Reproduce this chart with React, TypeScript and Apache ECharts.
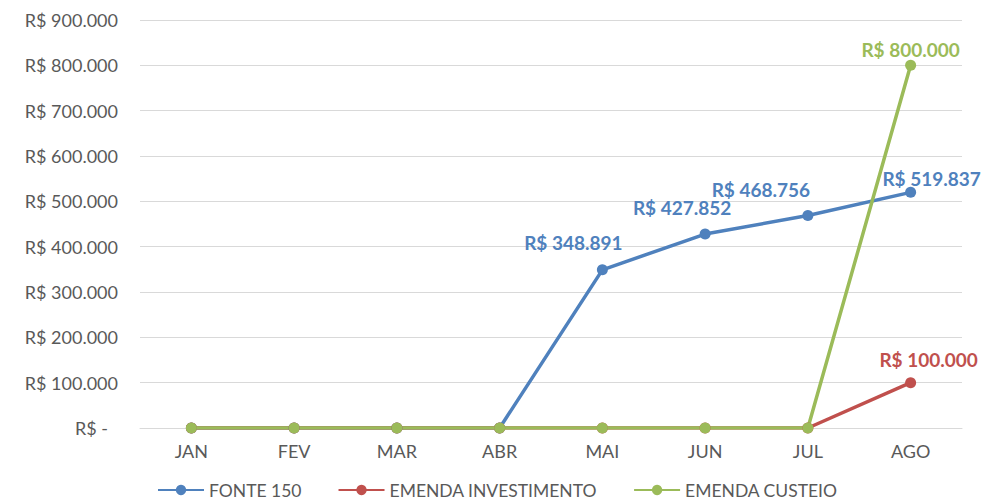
import React, { useEffect, useRef } from "react";
import * as echarts from "echarts";

const categories = ["JAN", "FEV", "MAR", "ABR", "MAI", "JUN", "JUL", "AGO"];
const fonte150 = [0, 0, 0, 0, 348891, 427852, 468756, 519837];
const emendaInvestimento = [0, 0, 0, 0, 0, 0, 0, 100000];
const emendaCusteio = [0, 0, 0, 0, 0, 0, 0, 800000];
const seriesNames = ["FONTE 150", "EMENDA INVESTIMENTO", "EMENDA CUSTEIO"];

const fmt = (v: number) =>
  "R$ " + Math.round(v).toString().replace(/\B(?=(\d{3})+(?!\d))/g, ".");

const fonteOffsets: Record<number, [number, number]> = {
  4: [-29, -7],
  5: [-23, -7],
  6: [-47, -6],
  7: [21, 6],
};

export default function App() {
  const ref = useRef<HTMLDivElement>(null);
  useEffect(() => {
    document.body.style.margin = "0";
    const chart = echarts.init(ref.current!, null, { renderer: "svg" });
    const font = "Lato";
    const mk = (
      values: number[],
      color: string,
      offsets: Record<number, [number, number]>
    ) =>
      values.map((v, i) =>
        v === 0
          ? v
          : {
              value: v,
              label: {
                show: true,
                position: "top",
                offset: offsets[i] || [0, 0],
                formatter: (p: any) => fmt(p.value),
                color,
                fontSize: 19,
                fontWeight: "bold",
                fontFamily: font,
              },
            }
      );
    const colors = ["#4F81BD", "#C0504D", "#9BBB59"];
    chart.setOption({
      animation: false,
      grid: { left: 140, right: 34, top: 20, bottom: 73 },
      legend: {
        bottom: -3,
        left: 152,
        itemWidth: 46,
        itemHeight: 13,
        itemGap: 36,
        textStyle: { color: "#595959", fontSize: 17.5, fontFamily: font },
        data: seriesNames,
      },
      xAxis: {
        type: "category",
        data: categories,
        axisLine: { lineStyle: { color: "#d9d9d9" } },
        axisTick: { show: false },
        axisLabel: {
          color: "#595959",
          fontSize: 18,
          fontFamily: font,
          margin: 14,
        },
      },
      yAxis: {
        type: "value",
        min: 0,
        max: 900000,
        interval: 100000,
        axisLine: { show: false },
        axisTick: { show: false },
        splitLine: { lineStyle: { color: "#d9d9d9" } },
        axisLabel: {
          color: "#595959",
          fontSize: 18,
          fontFamily: font,
          margin: 22,
          formatter: (v: number) => (v === 0 ? "{z|R$ -}" : fmt(v)),
          rich: {
            z: {
              color: "#595959",
              fontSize: 18,
              fontFamily: font,
              padding: [0, 10, 0, 0],
            },
          },
        },
      },
      series: [
        {
          name: seriesNames[0],
          type: "line",
          data: mk(fonte150, colors[0], fonteOffsets),
          color: colors[0],
          symbol: "circle",
          symbolSize: 11,
          lineStyle: { width: 3.5 },
        },
        {
          name: seriesNames[1],
          type: "line",
          data: mk(emendaInvestimento, colors[1], { 7: [18, -3] }),
          color: colors[1],
          symbol: "circle",
          symbolSize: 11,
          lineStyle: { width: 3.5 },
        },
        {
          name: seriesNames[2],
          type: "line",
          data: mk(emendaCusteio, colors[2], { 7: [0, 4] }),
          color: colors[2],
          symbol: "circle",
          symbolSize: 11,
          lineStyle: { width: 3.5 },
        },
      ],
    });
    return () => chart.dispose();
  }, []);
  return <div ref={ref} style={{ width: 996, height: 501 }} />;
}
